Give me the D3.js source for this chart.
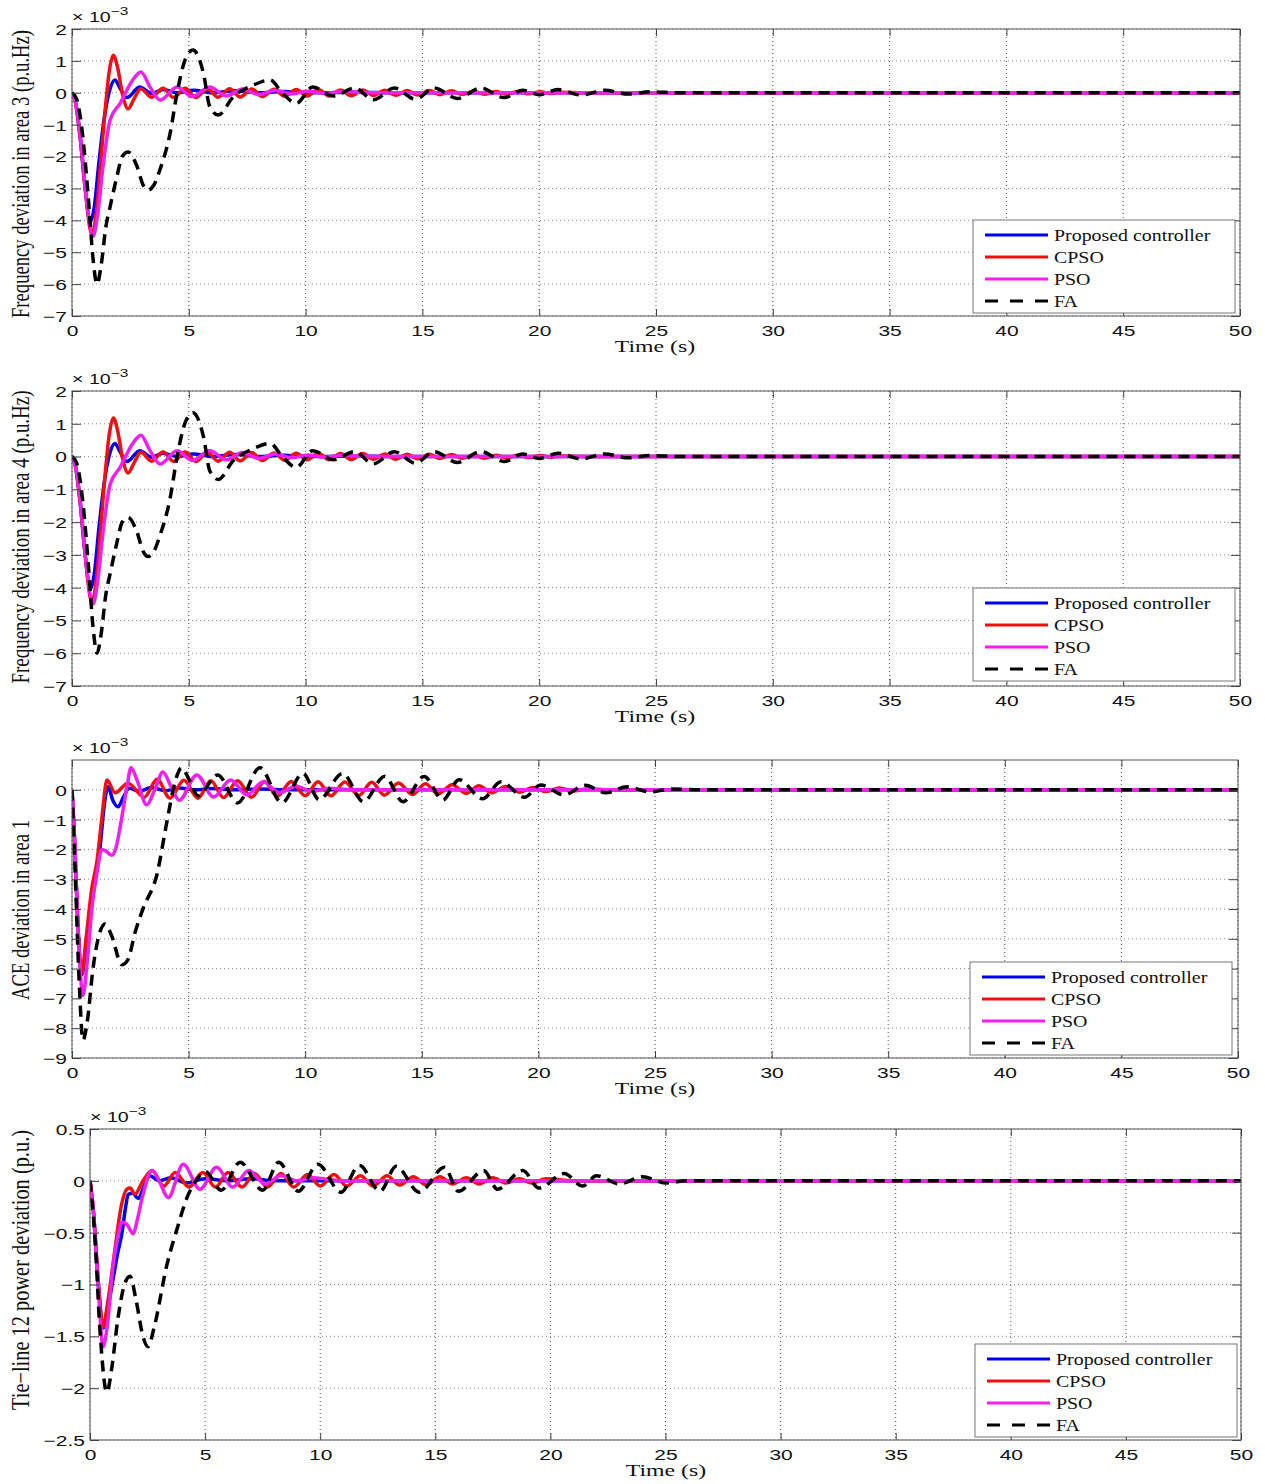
<!DOCTYPE html>
<html><head><meta charset="utf-8">
<script src="https://cdn.jsdelivr.net/npm/d3@7"></script>
<style>body{margin:0;background:#fff}</style>
</head><body>
<svg id="c" width="1265" height="1484"></svg>
<script>
// ---------------- DATA (values in units of 1e-3, time in s) ----------------
const seriesNames = ["Proposed controller", "CPSO", "PSO", "FA"];
const timeTicks = [0, 5, 10, 15, 20, 25, 30, 35, 40, 45, 50];
const freqTicks = [-7, -6, -5, -4, -3, -2, -1, 0, 1, 2];
const aceTicks = [-9, -8, -7, -6, -5, -4, -3, -2, -1, 0];
const tieTicks = [-2.5, -2, -1.5, -1, -0.5, 0, 0.5];

// Frequency deviation in area 3
const freq3Proposed = [[0,0],[0.15,-0.3],[0.35,-1.4],[0.55,-2.9],[0.78,-4.05],[0.95,-3.6],[1.15,-2.2],[1.4,-0.7],[1.6,0.05],[1.84,0.4],[2.05,0.15],[2.35,-0.15],[2.9,0.18],[3.4,-0.02],[3.9,0.1],[4.5,0.0],[5.2,0.08],[6.0,0.0],[7.0,0.06],[8.0,0.0],[9.0,0.04],[10.5,0.0],[12,0.02],[14,0],[50,0]];
const freq3CPSO = [[0,0],[0.15,-0.3],[0.35,-1.4],[0.55,-2.9],[0.85,-4.45],[1.05,-3.7],[1.25,-2.0],[1.45,-0.3],[1.6,0.7],[1.77,1.18],[1.95,0.8],[2.15,0.0],[2.4,-0.5],[2.65,-0.2],[2.95,0.13],[3.4,-0.14],[3.9,0.14],[4.35,-0.15],[4.85,0.14],[5.3,-0.15],[5.8,0.13],[6.25,-0.14],[6.75,0.13],[7.2,-0.13],[7.7,0.12],[8.15,-0.12],[8.65,0.11],[9.1,-0.11],[9.6,0.1],[10.05,-0.1],[10.55,0.1],[11.0,-0.1],[11.5,0.09],[11.95,-0.09],[12.45,0.09],[12.9,-0.08],[13.4,0.08],[13.85,-0.08],[14.35,0.07],[14.8,-0.07],[15.3,0.07],[15.75,-0.06],[16.25,0.06],[16.7,-0.05],[17.2,0.05],[17.65,-0.05],[18.15,0.04],[18.6,-0.04],[19.1,0.04],[19.55,-0.03],[20.05,0.03],[20.5,-0.02],[21,0.02],[22,0],[50,0]];
const freq3PSO = [[0,0],[0.15,-0.3],[0.35,-1.3],[0.6,-3.2],[0.9,-4.5],[1.1,-3.8],[1.33,-2.3],[1.63,-0.85],[2.06,-0.33],[2.6,0.4],[2.95,0.65],[3.34,0.18],[3.77,-0.23],[4.5,0.18],[5.14,-0.12],[5.9,0.18],[6.6,-0.1],[7.3,0.12],[8.0,-0.06],[8.7,0.08],[9.4,-0.04],[10.1,0.05],[10.8,-0.02],[11.5,0.03],[13,0],[50,0]];
const freq3FA = [[0,0],[0.2,-0.2],[0.45,-1.3],[0.7,-3.3],[0.9,-5.2],[1.07,-6.0],[1.25,-5.4],[1.45,-4.2],[1.63,-3.58],[1.93,-2.6],[2.15,-2.0],[2.4,-1.86],[2.78,-2.3],[3.05,-2.9],[3.26,-3.05],[3.5,-2.9],[3.77,-2.4],[4.2,-1.27],[4.5,0.0],[4.84,1.03],[5.18,1.34],[5.63,0.6],[5.9,-0.44],[6.26,-0.7],[6.9,-0.13],[7.76,0.24],[8.48,0.4],[9.0,0.0],[9.6,-0.33],[10.3,0.18],[11.2,-0.1],[12.1,0.15],[12.9,-0.22],[13.8,0.15],[14.7,-0.2],[15.5,0.15],[16.5,-0.18],[17.5,0.15],[18.5,-0.15],[19.3,0.08],[20.0,-0.06],[20.8,0.1],[21.8,-0.07],[22.8,0.08],[23.8,-0.04],[24.8,0.03],[26,0],[50,0]];

// Frequency deviation in area 4 (same response as area 3 in the figure)
const freq4Proposed = freq3Proposed;
const freq4CPSO = freq3CPSO;
const freq4PSO = freq3PSO;
const freq4FA = freq3FA;

// ACE deviation in area 1
const aceProposed = [[0,0],[0.1,-1.5],[0.25,-4.5],[0.42,-6.2],[0.6,-5.3],[0.85,-3.6],[1.2,-1.95],[1.4,-0.4],[1.55,0.1],[1.75,-0.35],[1.98,-0.57],[2.2,-0.25],[2.45,0.05],[2.9,-0.05],[3.4,0.08],[4.0,-0.03],[4.6,0.06],[5.3,0.0],[6,0.04],[7,0],[8,0.03],[9,0],[50,0]];
const aceCPSO = [[0,0],[0.1,-1.5],[0.25,-4.5],[0.42,-6.15],[0.6,-5.0],[0.85,-3.3],[1.07,-2.4],[1.3,-0.8],[1.5,0.33],[1.85,-0.1],[2.4,0.22],[3.1,-0.25],[3.65,0.35],[4.2,-0.28],[4.8,0.32],[5.4,-0.28],[5.95,0.3],[6.5,-0.26],[7.1,0.3],[7.7,-0.25],[8.25,0.28],[8.8,-0.22],[9.4,0.28],[10.0,-0.2],[10.55,0.27],[11.1,-0.2],[11.7,0.26],[12.3,-0.19],[12.85,0.25],[13.4,-0.18],[14.0,0.23],[14.6,-0.16],[15.15,0.2],[15.7,-0.14],[16.3,0.17],[16.9,-0.12],[17.45,0.14],[18.0,-0.1],[18.6,0.11],[19.2,-0.08],[19.75,0.08],[20.3,-0.06],[20.9,0.06],[21.5,-0.04],[22.05,0.03],[23,0],[50,0]];
const acePSO = [[0,0],[0.1,-1.5],[0.28,-5.0],[0.47,-6.9],[0.65,-5.8],[0.85,-4.0],[1.06,-2.85],[1.28,-2.0],[1.45,-2.05],[1.7,-2.2],[1.9,-1.9],[2.06,-1.27],[2.35,0.07],[2.53,0.74],[2.8,0.3],[3.2,-0.5],[3.55,0.0],[3.9,0.6],[4.25,0.1],[4.6,-0.35],[5.35,0.5],[6.07,-0.24],[6.8,0.33],[7.5,-0.17],[8.2,0.27],[8.9,-0.1],[9.6,0.12],[10.3,-0.05],[11,0.05],[12,0],[50,0]];
const aceFA = [[0,0],[0.1,-2],[0.3,-6.3],[0.47,-8.4],[0.65,-7.8],[0.9,-6.0],[1.15,-4.9],[1.42,-4.5],[1.7,-4.9],[2.14,-5.87],[2.4,-5.7],[2.7,-4.8],[3.06,-3.96],[3.64,-2.85],[4.07,-1.07],[4.42,0.27],[4.7,0.74],[5.05,0.3],[5.4,-0.2],[6.25,0.5],[7.1,-0.44],[8.06,0.74],[9.0,-0.44],[9.9,0.55],[10.6,-0.33],[11.6,0.55],[12.5,-0.4],[13.4,0.45],[14.2,-0.4],[15.1,0.45],[15.9,-0.34],[16.6,0.34],[17.6,-0.3],[18.4,0.27],[19.4,-0.25],[20.1,0.16],[21.1,-0.17],[22.0,0.15],[22.9,-0.1],[23.8,0.1],[24.8,-0.07],[25.7,0.03],[27,0],[50,0]];

// Tie-line 12 power deviation
const tieProposed = [[0,0],[0.15,-0.3],[0.35,-0.95],[0.57,-1.42],[0.75,-1.25],[1.0,-0.95],[1.2,-0.7],[1.39,-0.5],[1.55,-0.25],[1.66,-0.13],[1.85,-0.12],[2.1,-0.17],[2.35,-0.05],[2.6,0.05],[3.0,0.0],[3.5,0.03],[4.2,-0.02],[5,0.02],[6,0],[7,0.02],[8,0],[50,0]];
const tieCPSO = [[0,0],[0.15,-0.3],[0.35,-0.95],[0.57,-1.41],[0.75,-1.2],[1.09,-0.65],[1.35,-0.25],[1.6,-0.08],[1.75,-0.07],[1.95,-0.13],[2.3,0.0],[2.7,0.1],[3.2,-0.05],[3.7,0.08],[4.3,-0.06],[4.9,0.08],[5.45,-0.06],[6.0,0.08],[6.6,-0.06],[7.15,0.07],[7.7,-0.06],[8.3,0.07],[8.85,-0.06],[9.45,0.06],[10.0,-0.05],[10.6,0.06],[11.15,-0.05],[11.75,0.05],[12.3,-0.05],[12.9,0.05],[13.45,-0.04],[14.05,0.04],[14.6,-0.04],[15.2,0.04],[15.75,-0.03],[16.35,0.03],[16.9,-0.03],[17.5,0.03],[18.05,-0.02],[18.65,0.02],[19.2,-0.02],[19.8,0.02],[21,0],[50,0]];
const tiePSO = [[0,0],[0.15,-0.3],[0.35,-1.0],[0.57,-1.6],[0.75,-1.4],[1.0,-0.82],[1.2,-0.55],[1.39,-0.4],[1.6,-0.42],[1.87,-0.51],[2.05,-0.38],[2.26,-0.17],[2.7,0.1],[3.0,0.0],[3.4,-0.16],[4.05,0.16],[4.78,-0.08],[5.5,0.13],[6.2,-0.06],[6.9,0.1],[7.6,-0.03],[8.3,0.05],[9,0],[9.7,0.03],[11,0],[50,0]];
const tieFA = [[0,0],[0.2,-0.5],[0.45,-1.5],[0.73,-2.04],[0.95,-1.8],[1.2,-1.35],[1.5,-1.0],[1.74,-0.92],[2.0,-1.15],[2.3,-1.5],[2.52,-1.6],[2.8,-1.4],[3.33,-0.82],[3.8,-0.45],[4.2,-0.17],[4.6,0.0],[5.0,0.09],[5.7,-0.09],[6.52,0.18],[7.5,-0.09],[8.2,0.18],[9.05,-0.1],[9.9,0.16],[10.9,-0.11],[11.7,0.15],[12.6,-0.1],[13.3,0.14],[14.3,-0.11],[15.4,0.13],[16.0,-0.1],[17.1,0.1],[17.7,-0.08],[18.8,0.1],[19.5,-0.07],[20.6,0.07],[21.4,-0.05],[22.0,0.05],[23.0,-0.03],[24.0,0.04],[25,-0.02],[26,0],[50,0]];

// ---------------- LAYOUT / STYLE ----------------
const colors = ["#0000f0", "#f01010", "#f020f0", "#000000"];
const panels = [
  {left:72, right:1240, top:29, bottom:316, yDomain:[-7,2], yTicks:freqTicks,
   ylabel:"Frequency deviation in area 3 (p.u.Hz)", ylabelLen:288, ylabelCy:174, xTitleX:655,
   series:[freq3Proposed, freq3CPSO, freq3PSO, freq3FA], legend:[973,220]},
  {left:72, right:1240, top:391, bottom:686, yDomain:[-7,2], yTicks:freqTicks,
   ylabel:"Frequency deviation in area 4 (p.u.Hz)", ylabelLen:293, ylabelCy:537, xTitleX:655,
   series:[freq4Proposed, freq4CPSO, freq4PSO, freq4FA], legend:[973,588]},
  {left:72, right:1238, top:760, bottom:1058, yDomain:[-9,1], yTicks:aceTicks,
   ylabel:"ACE deviation in area 1", ylabelLen:180, ylabelCy:910, xTitleX:655,
   series:[aceProposed, aceCPSO, acePSO, aceFA], legend:[970,962]},
  {left:90, right:1241, top:1129, bottom:1440, yDomain:[-2.5,0.5], yTicks:tieTicks,
   ylabel:"Tie\u2212line 12 power deviation (p.u.)", ylabelLen:280, ylabelCy:1270, xTitleX:666,
   series:[tieProposed, tieCPSO, tiePSO, tieFA], legend:[975,1344]}
];

const svg = d3.select("#c");
const sans = "'Liberation Sans', Arial, sans-serif";
const serif = "'Liberation Serif', 'Times New Roman', serif";
const fmt = d3.format("~g");
const SX = 1.4;

panels.forEach((p, pi) => {
  const x = d3.scaleLinear().domain([0, 50]).range([p.left, p.right]);
  const y = d3.scaleLinear().domain(p.yDomain).range([p.bottom, p.top]);
  const g = svg.append("g");

  // grid
  g.append("g").selectAll("line").data(timeTicks).join("line")
    .attr("x1", d => x(d)).attr("x2", d => x(d)).attr("y1", p.top).attr("y2", p.bottom)
    .attr("stroke", "#555").attr("stroke-width", 1).attr("stroke-dasharray", "1,3");
  g.append("g").selectAll("line").data(p.yTicks).join("line")
    .attr("x1", p.left).attr("x2", p.right).attr("y1", d => y(d)).attr("y2", d => y(d))
    .attr("stroke", "#888").attr("stroke-width", 1).attr("stroke-dasharray", "1,3");

  // clip
  const cid = "clip" + pi;
  svg.append("clipPath").attr("id", cid).append("rect")
    .attr("x", p.left).attr("y", p.top).attr("width", p.right - p.left).attr("height", p.bottom - p.top);

  const line = d3.line().x(d => x(d[0])).y(d => y(d[1])).curve(d3.curveMonotoneX);
  const lg = g.append("g").attr("clip-path", `url(#${cid})`);
  p.series.forEach((s, i) => {
    lg.append("path").datum(s).attr("d", line)
      .attr("fill", "none").attr("stroke", colors[i]).attr("stroke-width", 3.5)
      .attr("stroke-linejoin", "round")
      .attr("stroke-dasharray", i === 3 ? "11,7" : null);
  });

  // box
  g.append("rect").attr("x", p.left).attr("y", p.top)
    .attr("width", p.right - p.left).attr("height", p.bottom - p.top)
    .attr("fill", "none").attr("stroke", "#555").attr("stroke-width", 1);

  // axes
  const gx = g.append("g").attr("transform", `translate(0,${p.bottom})`)
    .call(d3.axisBottom(x).tickValues(timeTicks).tickSize(-7).tickPadding(0).tickFormat(fmt));
  gx.select(".domain").remove();
  gx.selectAll(".tick line").attr("stroke", "#444");
  gx.selectAll(".tick text").attr("y", 20).attr("dy", null)
    .attr("transform", `scale(${SX},1)`)
    .attr("font-family", sans).attr("font-size", 15).attr("fill", "#111");

  const gt = g.append("g").attr("transform", `translate(0,${p.top})`)
    .call(d3.axisTop(x).tickValues(timeTicks).tickSize(-7).tickFormat(""));
  gt.select(".domain").remove();
  gt.selectAll(".tick line").attr("stroke", "#444");

  const gy = g.append("g").attr("transform", `translate(${p.left},0)`)
    .call(d3.axisLeft(y).tickValues(p.yTicks).tickSize(-9).tickPadding(0).tickFormat(fmt));
  gy.select(".domain").remove();
  gy.selectAll(".tick line").attr("stroke", "#444");
  gy.selectAll(".tick text").attr("x", -5 / SX).attr("dy", "0.36em")
    .attr("transform", `scale(${SX},1)`)
    .attr("font-family", sans).attr("font-size", 15).attr("fill", "#111");

  const gr = g.append("g").attr("transform", `translate(${p.right},0)`)
    .call(d3.axisRight(y).tickValues(p.yTicks).tickSize(-9).tickFormat(""));
  gr.select(".domain").remove();
  gr.selectAll(".tick line").attr("stroke", "#444");

  // exponent label
  const ex = g.append("text").attr("transform", `translate(${p.left},${p.top - 7}) scale(${SX},1)`)
    .attr("font-family", sans).attr("font-size", 14).attr("fill", "#111");
  ex.append("tspan").text("\u00d7 10");
  ex.append("tspan").attr("font-size", 11).attr("dy", -7).text("\u22123");

  // x title
  g.append("text").attr("transform", `translate(${p.xTitleX},${p.bottom + 36}) scale(1.4,1)`)
    .attr("text-anchor", "middle").attr("font-family", serif).attr("font-size", 17)
    .attr("fill", "#111").text("Time (s)");

  // y title
  g.append("text").attr("transform", `translate(29,${p.ylabelCy}) scale(1.3,1) rotate(-90)`)
    .attr("text-anchor", "middle").attr("font-family", serif).attr("font-size", 18.6)
    .attr("textLength", p.ylabelLen).attr("lengthAdjust", "spacingAndGlyphs")
    .attr("fill", "#111").text(p.ylabel);

  // legend
  const [lx, ly] = p.legend;
  const leg = g.append("g");
  leg.append("rect").attr("x", lx).attr("y", ly).attr("width", 262).attr("height", 93)
    .attr("fill", "#fff").attr("stroke", "#777").attr("stroke-width", 1);
  seriesNames.forEach((name, i) => {
    const ry = ly + 15 + i * 22;
    leg.append("line").attr("x1", lx + 12).attr("x2", lx + 75).attr("y1", ry).attr("y2", ry)
      .attr("stroke", colors[i]).attr("stroke-width", 3)
      .attr("stroke-dasharray", i === 3 ? "13,12" : null);
    leg.append("text").attr("transform", `translate(${lx + 81},${ry + 6}) scale(1.17,1)`)
      .attr("font-family", serif).attr("font-size", 17).attr("fill", "#111").text(name);
  });
});
</script>
</body></html>
